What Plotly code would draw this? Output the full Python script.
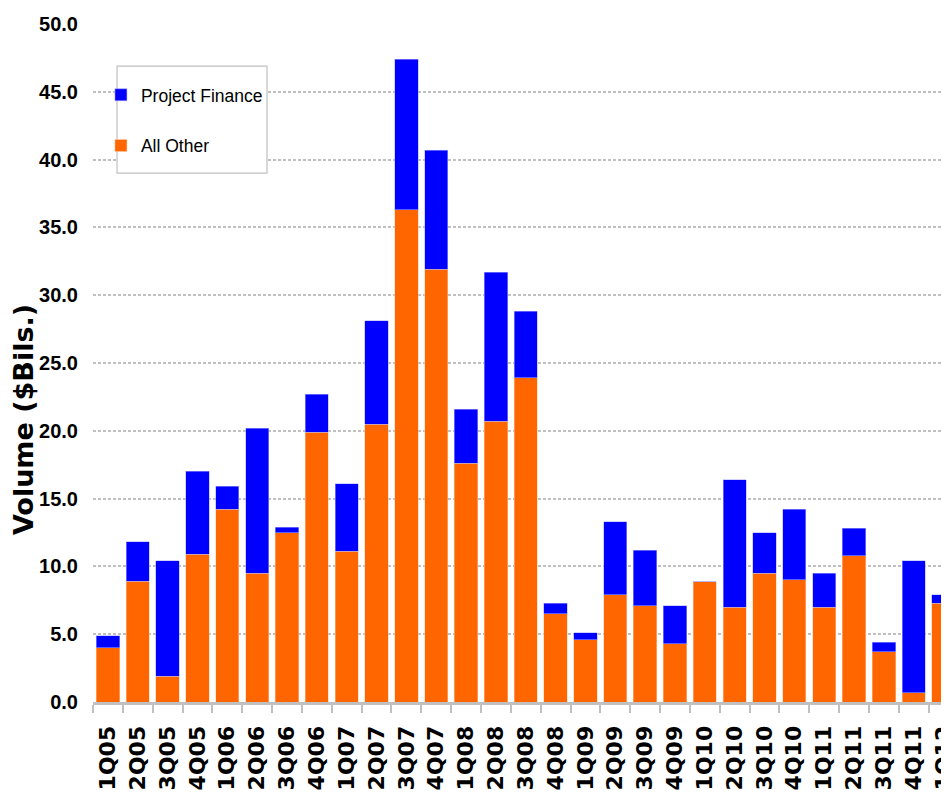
import plotly.graph_objects as go

quarters = ["1Q05", "2Q05", "3Q05", "4Q05", "1Q06", "2Q06", "3Q06", "4Q06",
            "1Q07", "2Q07", "3Q07", "4Q07", "1Q08", "2Q08", "3Q08", "4Q08",
            "1Q09", "2Q09", "3Q09", "4Q09", "1Q10", "2Q10", "3Q10", "4Q10",
            "1Q11", "2Q11", "3Q11", "4Q11", "1Q12"]

all_other = [4.0, 8.9, 1.9, 10.9, 14.2, 9.5, 12.5, 19.9, 11.1, 20.5, 36.3, 31.9,
             17.6, 20.7, 23.9, 6.5, 4.6, 7.9, 7.1, 4.3, 8.85, 7.0, 9.5, 9.0,
             7.0, 10.8, 3.7, 0.7, 7.3]

project_finance = [0.9, 2.9, 8.5, 6.1, 1.7, 10.7, 0.4, 2.8, 5.0, 7.6, 11.1, 8.8,
                   4.0, 11.0, 4.9, 0.8, 0.5, 5.4, 4.1, 2.8, 0.0, 9.4, 3.0, 5.2,
                   2.5, 2.0, 0.7, 9.7, 0.6]

y_ticks = [0, 5, 10, 15, 20, 25, 30, 35, 40, 45, 50]

ORANGE = "#FF6600"
BLUE = "#0000FF"
GRID = "#c0c0c0"

fig = go.Figure()
fig.add_trace(go.Bar(
    x=quarters, y=all_other, name="All Other",
    marker=dict(color=ORANGE, line=dict(color="rgba(255,200,170,0.8)", width=0.6)),
    legendgroup="a", legendrank=2,
))
fig.add_trace(go.Bar(
    x=quarters, y=project_finance, name="Project Finance",
    marker=dict(color=BLUE, line=dict(color="rgba(170,170,255,0.9)", width=0.6)),
    legendgroup="b", legendrank=1,
))

fig.update_layout(
    width=949, height=809,
    barmode="stack",
    bargap=0.22,
    plot_bgcolor="white",
    paper_bgcolor="white",
    margin=dict(l=85, r=0, t=16, b=115, autoexpand=False),
    showlegend=True,
    legend=dict(
        x=0.0092, y=0.922, xanchor="left", yanchor="top",
        borderwidth=0,
        bgcolor="rgba(0,0,0,0)",
        traceorder="grouped",
        tracegroupgap=25,
        font=dict(family="Liberation Sans, Arial, sans-serif", size=17.5, color="#000"),
        itemwidth=30,
    ),
    shapes=[dict(
        type="rect", xref="paper", yref="paper",
        x0=0.0278, x1=0.2014, y0=0.780, y1=0.938,
        line=dict(color=GRID, width=1.2), fillcolor="white", layer="above",
    )],
    xaxis=dict(
        type="category",
        range=[-0.5, 28.45],
        automargin=False,
        showline=True, linecolor=GRID, linewidth=3,
        ticks="outside", tickson="boundaries", ticklen=8, tickcolor=GRID, tickwidth=2,
        tickangle=-90,
        ticklabelstandoff=12,
        tickfont=dict(family="DejaVu Sans, sans-serif", size=22, color="#000", weight="bold"),
        showgrid=False,
    ),
    yaxis=dict(
        range=[0, 50],
        automargin=False,
        tickmode="array",
        tickvals=y_ticks,
        ticktext=[f"{v:.1f}" for v in y_ticks],
        showgrid=True, gridcolor=GRID, gridwidth=1.5, griddash="3px,2px",
        zeroline=False, showline=False,
        ticks="",
        ticklabelstandoff=14,
        tickfont=dict(family="Liberation Sans, Arial, sans-serif", size=20, color="#000", weight="bold"),
    ),
    annotations=[dict(
        text="<b>Volume ($Bils.)</b>",
        xref="paper", yref="paper",
        x=-0.0797, y=0.416,
        xanchor="center", yanchor="middle",
        textangle=-90, showarrow=False,
        font=dict(family="DejaVu Sans, sans-serif", size=27, color="#000"),
    )],
)

fig.write_html("out.html")
